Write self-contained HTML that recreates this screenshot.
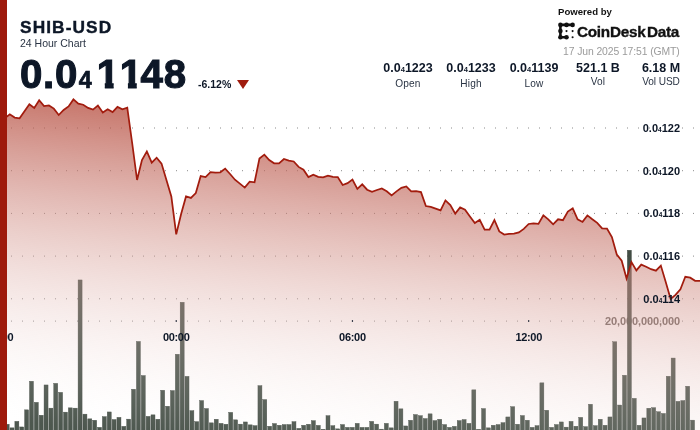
<!DOCTYPE html>
<html><head><meta charset="utf-8"><title>SHIB-USD 24 Hour Chart</title>
<style>
html,body{margin:0;padding:0;background:#fff;}
body{width:700px;height:430px;overflow:hidden;position:relative;font-family:"Liberation Sans",sans-serif;color:#0f1a2b;}
#chart{position:absolute;left:0;top:0;will-change:transform;}
.t{position:absolute;white-space:nowrap;line-height:1;will-change:transform;}
#title{left:19.8px;top:18.6px;font-size:17.3px;font-weight:bold;letter-spacing:1.1px;-webkit-text-stroke:0.4px #0d1727;color:#0d1727;}
#sub{left:20.4px;top:38px;font-size:10.5px;color:#2a3444;}
#price{left:19.8px;top:54.7px;font-size:40.2px;font-weight:bold;letter-spacing:0.75px;-webkit-text-stroke:1.1px #0d1727;color:#0d1727;}
#price .s{font-size:23.4px;letter-spacing:2.6px;margin-left:0.6px;-webkit-text-stroke:0.7px #0d1727;}
#price .one{display:inline-block;clip-path:polygon(0 0,100% 0,100% 27.6px,16.9px 27.6px,16.9px 100%,8.1px 100%,8.1px 27.6px,0 27.6px);}
#chg{left:197.5px;top:79px;font-size:10.5px;font-weight:bold;color:#0d1727;}
#tri{position:absolute;left:237.1px;top:80.2px;width:0;height:0;border-left:6.1px solid transparent;border-right:6.1px solid transparent;border-top:9.4px solid #a01c0e;}
#pw{left:558px;top:7.3px;font-size:9.6px;font-weight:bold;letter-spacing:0px;color:#111;}
#cd{left:577px;top:24px;font-size:15.3px;font-weight:bold;letter-spacing:-0.27px;color:#111;-webkit-text-stroke:0.35px #111;}
#date{right:20px;top:46.5px;font-size:10.4px;color:#9b9b9b;letter-spacing:-0.1px;}
.stat{position:absolute;top:62px;width:80px;margin-left:-40px;text-align:center;white-space:nowrap;will-change:transform;}
.stat b{display:block;font-size:12.5px;line-height:12px;color:#0d1727;}
.stat b .s{font-size:7.5px;}
.stat span.l{display:block;font-size:10.1px;letter-spacing:0.15px;line-height:12px;margin-top:1.5px;color:#2a3444;}
svg text.ax{font-family:"Liberation Sans",sans-serif;font-weight:bold;font-size:11px;fill:#0d1727;}
svg text.ax .sub{font-size:6.5px;}
svg text.vol{fill:#67615d;}
</style></head><body>
<svg id="chart" width="700" height="430" viewBox="0 0 700 430">
<defs><linearGradient id="g" gradientUnits="userSpaceOnUse" x1="1.13" y1="-10.78" x2="-43.5" y2="414.5"><stop offset="0.0000" stop-color="rgb(158,19,0)" stop-opacity="0.9850"/><stop offset="0.0233" stop-color="rgb(160,24,6)" stop-opacity="0.9635"/><stop offset="0.0465" stop-color="rgb(163,30,12)" stop-opacity="0.9420"/><stop offset="0.0698" stop-color="rgb(165,35,18)" stop-opacity="0.9205"/><stop offset="0.0930" stop-color="rgb(167,41,24)" stop-opacity="0.8990"/><stop offset="0.1163" stop-color="rgb(169,46,30)" stop-opacity="0.8774"/><stop offset="0.1395" stop-color="rgb(172,52,36)" stop-opacity="0.8559"/><stop offset="0.1628" stop-color="rgb(174,57,42)" stop-opacity="0.8344"/><stop offset="0.1860" stop-color="rgb(176,63,47)" stop-opacity="0.8129"/><stop offset="0.2093" stop-color="rgb(178,68,53)" stop-opacity="0.7914"/><stop offset="0.2326" stop-color="rgb(181,74,59)" stop-opacity="0.7699"/><stop offset="0.2558" stop-color="rgb(183,79,65)" stop-opacity="0.7484"/><stop offset="0.2791" stop-color="rgb(185,85,71)" stop-opacity="0.7269"/><stop offset="0.3023" stop-color="rgb(187,90,77)" stop-opacity="0.7053"/><stop offset="0.3256" stop-color="rgb(190,96,83)" stop-opacity="0.6838"/><stop offset="0.3488" stop-color="rgb(192,101,89)" stop-opacity="0.6623"/><stop offset="0.3721" stop-color="rgb(194,107,95)" stop-opacity="0.6408"/><stop offset="0.3953" stop-color="rgb(196,112,101)" stop-opacity="0.6193"/><stop offset="0.4186" stop-color="rgb(199,118,107)" stop-opacity="0.5978"/><stop offset="0.4419" stop-color="rgb(201,123,113)" stop-opacity="0.5763"/><stop offset="0.4651" stop-color="rgb(203,129,119)" stop-opacity="0.5548"/><stop offset="0.4884" stop-color="rgb(205,134,125)" stop-opacity="0.5333"/><stop offset="0.5116" stop-color="rgb(208,140,130)" stop-opacity="0.5117"/><stop offset="0.5349" stop-color="rgb(210,145,136)" stop-opacity="0.4902"/><stop offset="0.5581" stop-color="rgb(212,151,142)" stop-opacity="0.4687"/><stop offset="0.5814" stop-color="rgb(214,156,148)" stop-opacity="0.4472"/><stop offset="0.6047" stop-color="rgb(217,162,154)" stop-opacity="0.4257"/><stop offset="0.6279" stop-color="rgb(219,167,160)" stop-opacity="0.4042"/><stop offset="0.6512" stop-color="rgb(221,173,166)" stop-opacity="0.3827"/><stop offset="0.6744" stop-color="rgb(223,178,172)" stop-opacity="0.3612"/><stop offset="0.6977" stop-color="rgb(226,184,178)" stop-opacity="0.3397"/><stop offset="0.7209" stop-color="rgb(228,189,184)" stop-opacity="0.3181"/><stop offset="0.7442" stop-color="rgb(230,195,190)" stop-opacity="0.2966"/><stop offset="0.7674" stop-color="rgb(232,200,196)" stop-opacity="0.2751"/><stop offset="0.7907" stop-color="rgb(235,206,202)" stop-opacity="0.2536"/><stop offset="0.8140" stop-color="rgb(237,211,208)" stop-opacity="0.2321"/><stop offset="0.8372" stop-color="rgb(239,217,213)" stop-opacity="0.2106"/><stop offset="0.8605" stop-color="rgb(241,222,219)" stop-opacity="0.1891"/><stop offset="0.8837" stop-color="rgb(244,228,225)" stop-opacity="0.1676"/><stop offset="0.9070" stop-color="rgb(246,233,231)" stop-opacity="0.1460"/><stop offset="0.9302" stop-color="rgb(248,239,237)" stop-opacity="0.1245"/><stop offset="0.9535" stop-color="rgb(250,244,243)" stop-opacity="0.1030"/><stop offset="0.9767" stop-color="rgb(253,250,249)" stop-opacity="0.0815"/><stop offset="1.0000" stop-color="rgb(255,255,255)" stop-opacity="0.0600"/></linearGradient></defs>
<g stroke="#8a8a8a" stroke-width="1" stroke-dasharray="1 10" fill="none"><line x1="0" x2="700" y1="128.0" y2="128.0"/><line x1="0" x2="700" y1="170.7" y2="170.7"/><line x1="0" x2="700" y1="213.4" y2="213.4"/><line x1="0" x2="700" y1="256.1" y2="256.1"/><line x1="0" x2="700" y1="298.8" y2="298.8"/><line x1="0" x2="700" y1="321.1" y2="321.1"/></g>
<text x="680" y="325.4" text-anchor="end" class="ax vol" letter-spacing="-0.1">20,000,000,000</text>
<g fill="#424d44" stroke="#363f38" stroke-width="0.4"><rect x="0.30" y="425.25" width="4.0" height="6.0"/><rect x="5.16" y="424.25" width="4.0" height="7.0"/><rect x="10.02" y="427.85" width="4.0" height="3.4"/><rect x="14.88" y="421.35" width="4.0" height="9.9"/><rect x="19.74" y="426.95" width="4.0" height="4.3"/><rect x="24.61" y="409.85" width="4.0" height="21.4"/><rect x="29.47" y="381.25" width="4.0" height="50.0"/><rect x="34.33" y="402.35" width="4.0" height="28.9"/><rect x="39.19" y="415.25" width="4.0" height="16.0"/><rect x="44.05" y="384.95" width="4.0" height="46.3"/><rect x="48.91" y="408.15" width="4.0" height="23.1"/><rect x="53.77" y="383.35" width="4.0" height="47.9"/><rect x="58.63" y="392.35" width="4.0" height="38.9"/><rect x="63.49" y="412.15" width="4.0" height="19.1"/><rect x="68.36" y="407.85" width="4.0" height="23.4"/><rect x="73.22" y="408.15" width="4.0" height="23.1"/><rect x="78.08" y="279.95" width="4.0" height="151.3"/><rect x="82.94" y="414.15" width="4.0" height="17.1"/><rect x="87.80" y="418.85" width="4.0" height="12.4"/><rect x="92.66" y="420.25" width="4.0" height="11.0"/><rect x="97.52" y="427.35" width="4.0" height="3.9"/><rect x="102.38" y="416.65" width="4.0" height="14.6"/><rect x="107.24" y="411.95" width="4.0" height="19.3"/><rect x="112.11" y="419.55" width="4.0" height="11.7"/><rect x="116.97" y="417.35" width="4.0" height="13.9"/><rect x="121.83" y="426.35" width="4.0" height="4.9"/><rect x="126.69" y="419.15" width="4.0" height="12.1"/><rect x="131.55" y="389.25" width="4.0" height="42.0"/><rect x="136.41" y="341.45" width="4.0" height="89.8"/><rect x="141.27" y="375.55" width="4.0" height="55.7"/><rect x="146.13" y="416.35" width="4.0" height="14.9"/><rect x="150.99" y="414.85" width="4.0" height="16.4"/><rect x="155.86" y="419.25" width="4.0" height="12.0"/><rect x="160.72" y="390.25" width="4.0" height="41.0"/><rect x="165.58" y="406.25" width="4.0" height="25.0"/><rect x="170.44" y="390.55" width="4.0" height="40.7"/><rect x="175.30" y="354.25" width="4.0" height="77.0"/><rect x="180.16" y="302.25" width="4.0" height="129.0"/><rect x="185.02" y="376.35" width="4.0" height="54.9"/><rect x="189.88" y="410.65" width="4.0" height="20.6"/><rect x="194.74" y="421.65" width="4.0" height="9.6"/><rect x="199.61" y="400.55" width="4.0" height="30.7"/><rect x="204.47" y="408.55" width="4.0" height="22.7"/><rect x="209.33" y="422.85" width="4.0" height="8.4"/><rect x="214.19" y="419.25" width="4.0" height="12.0"/><rect x="219.05" y="423.35" width="4.0" height="7.9"/><rect x="223.91" y="424.25" width="4.0" height="7.0"/><rect x="228.77" y="412.35" width="4.0" height="18.9"/><rect x="233.63" y="419.85" width="4.0" height="11.4"/><rect x="238.49" y="424.15" width="4.0" height="7.1"/><rect x="243.36" y="421.95" width="4.0" height="9.3"/><rect x="248.22" y="424.85" width="4.0" height="6.4"/><rect x="253.08" y="425.65" width="4.0" height="5.6"/><rect x="257.94" y="385.65" width="4.0" height="45.6"/><rect x="262.80" y="399.55" width="4.0" height="31.7"/><rect x="267.66" y="426.25" width="4.0" height="5.0"/><rect x="272.52" y="423.55" width="4.0" height="7.7"/><rect x="277.38" y="425.25" width="4.0" height="6.0"/><rect x="282.24" y="424.55" width="4.0" height="6.7"/><rect x="287.11" y="424.55" width="4.0" height="6.7"/><rect x="291.97" y="421.65" width="4.0" height="9.6"/><rect x="296.83" y="428.35" width="4.0" height="2.9"/><rect x="301.69" y="425.25" width="4.0" height="6.0"/><rect x="306.55" y="424.25" width="4.0" height="7.0"/><rect x="311.41" y="420.65" width="4.0" height="10.6"/><rect x="316.27" y="425.35" width="4.0" height="5.9"/><rect x="321.13" y="429.25" width="4.0" height="2.0"/><rect x="325.99" y="415.65" width="4.0" height="15.6"/><rect x="330.86" y="425.65" width="4.0" height="5.6"/><rect x="335.72" y="428.85" width="4.0" height="2.4"/><rect x="340.58" y="424.55" width="4.0" height="6.7"/><rect x="345.44" y="427.35" width="4.0" height="3.9"/><rect x="350.30" y="427.35" width="4.0" height="3.9"/><rect x="355.16" y="423.35" width="4.0" height="7.9"/><rect x="360.02" y="427.35" width="4.0" height="3.9"/><rect x="364.88" y="427.35" width="4.0" height="3.9"/><rect x="369.74" y="421.35" width="4.0" height="9.9"/><rect x="374.61" y="424.15" width="4.0" height="7.1"/><rect x="379.47" y="429.15" width="4.0" height="2.1"/><rect x="384.33" y="423.35" width="4.0" height="7.9"/><rect x="389.19" y="427.85" width="4.0" height="3.4"/><rect x="394.05" y="401.25" width="4.0" height="30.0"/><rect x="398.91" y="408.85" width="4.0" height="22.4"/><rect x="403.77" y="425.95" width="4.0" height="5.3"/><rect x="408.63" y="420.25" width="4.0" height="11.0"/><rect x="413.49" y="414.55" width="4.0" height="16.7"/><rect x="418.36" y="415.65" width="4.0" height="15.6"/><rect x="423.22" y="418.55" width="4.0" height="12.7"/><rect x="428.08" y="413.85" width="4.0" height="17.4"/><rect x="432.94" y="420.55" width="4.0" height="10.7"/><rect x="437.80" y="419.25" width="4.0" height="12.0"/><rect x="442.66" y="424.55" width="4.0" height="6.7"/><rect x="447.52" y="427.35" width="4.0" height="3.9"/><rect x="452.38" y="426.35" width="4.0" height="4.9"/><rect x="457.24" y="420.55" width="4.0" height="10.7"/><rect x="462.11" y="419.55" width="4.0" height="11.7"/><rect x="466.97" y="423.35" width="4.0" height="7.9"/><rect x="471.83" y="389.85" width="4.0" height="41.4"/><rect x="476.69" y="429.25" width="4.0" height="2.0"/><rect x="481.55" y="408.55" width="4.0" height="22.7"/><rect x="486.41" y="427.85" width="4.0" height="3.4"/><rect x="491.27" y="425.25" width="4.0" height="6.0"/><rect x="496.13" y="424.55" width="4.0" height="6.7"/><rect x="500.99" y="422.65" width="4.0" height="8.6"/><rect x="505.86" y="416.95" width="4.0" height="14.3"/><rect x="510.72" y="406.65" width="4.0" height="24.6"/><rect x="515.58" y="424.25" width="4.0" height="7.0"/><rect x="520.44" y="415.55" width="4.0" height="15.7"/><rect x="525.30" y="420.25" width="4.0" height="11.0"/><rect x="530.16" y="427.35" width="4.0" height="3.9"/><rect x="535.02" y="425.65" width="4.0" height="5.6"/><rect x="539.88" y="382.85" width="4.0" height="48.4"/><rect x="544.74" y="410.25" width="4.0" height="21.0"/><rect x="549.61" y="427.35" width="4.0" height="3.9"/><rect x="554.47" y="424.55" width="4.0" height="6.7"/><rect x="559.33" y="421.95" width="4.0" height="9.3"/><rect x="564.19" y="427.15" width="4.0" height="4.1"/><rect x="569.05" y="421.35" width="4.0" height="9.9"/><rect x="573.91" y="426.25" width="4.0" height="5.0"/><rect x="578.77" y="417.35" width="4.0" height="13.9"/><rect x="583.63" y="426.65" width="4.0" height="4.6"/><rect x="588.49" y="404.25" width="4.0" height="27.0"/><rect x="593.36" y="425.65" width="4.0" height="5.6"/><rect x="598.22" y="419.25" width="4.0" height="12.0"/><rect x="603.08" y="425.25" width="4.0" height="6.0"/><rect x="607.94" y="416.95" width="4.0" height="14.3"/><rect x="612.80" y="341.75" width="4.0" height="89.5"/><rect x="617.66" y="405.05" width="4.0" height="26.2"/><rect x="622.52" y="375.25" width="4.0" height="56.0"/><rect x="627.38" y="250.25" width="4.0" height="181.0"/><rect x="632.24" y="398.35" width="4.0" height="32.9"/><rect x="637.11" y="425.25" width="4.0" height="6.0"/><rect x="641.97" y="417.95" width="4.0" height="13.3"/><rect x="646.83" y="408.25" width="4.0" height="23.0"/><rect x="651.69" y="407.65" width="4.0" height="23.6"/><rect x="656.55" y="411.75" width="4.0" height="19.5"/><rect x="661.41" y="413.45" width="4.0" height="17.8"/><rect x="666.27" y="376.25" width="4.0" height="55.0"/><rect x="671.13" y="358.05" width="4.0" height="73.2"/><rect x="675.99" y="401.35" width="4.0" height="29.9"/><rect x="680.86" y="400.55" width="4.0" height="30.7"/><rect x="685.72" y="386.25" width="4.0" height="45.0"/><rect x="690.58" y="420.15" width="4.0" height="11.1"/></g>
<path d="M0.00,117.00 L4.90,118.10 L9.79,114.30 L14.69,117.60 L19.58,118.30 L24.48,111.30 L29.37,104.30 L34.27,107.90 L39.16,100.30 L44.06,106.10 L48.95,105.40 L53.85,108.60 L58.74,115.00 L63.64,110.00 L68.53,106.40 L73.43,99.40 L78.32,103.60 L83.22,104.70 L88.11,107.90 L93.01,109.60 L97.90,105.50 L102.80,112.60 L107.69,109.30 L112.59,112.10 L117.48,106.90 L122.38,109.30 L127.27,107.70 L132.17,143.00 L137.06,180.00 L141.96,160.00 L146.85,151.40 L151.75,162.60 L156.64,157.70 L161.54,163.60 L166.43,180.00 L171.33,196.40 L176.22,234.40 L181.12,214.00 L186.01,196.40 L190.91,197.90 L195.80,193.00 L200.70,176.10 L205.59,177.10 L210.49,172.10 L215.38,172.60 L220.28,172.30 L225.17,168.60 L230.07,174.00 L234.97,179.70 L239.86,183.60 L244.76,187.60 L249.65,181.70 L254.55,182.30 L259.44,158.60 L264.34,154.60 L269.23,160.00 L274.13,163.30 L279.02,163.30 L283.92,159.00 L288.81,160.70 L293.71,161.50 L298.60,166.90 L303.50,169.70 L308.39,177.10 L313.29,174.60 L318.18,176.90 L323.08,177.40 L327.97,175.70 L332.87,176.90 L337.76,177.10 L342.66,185.00 L347.55,183.10 L352.45,179.60 L357.34,188.90 L362.24,184.30 L367.13,189.70 L372.03,191.90 L376.92,190.00 L381.82,188.40 L386.71,191.30 L391.61,195.40 L396.50,191.40 L401.40,187.90 L406.29,186.40 L411.19,191.40 L416.08,191.10 L420.98,192.10 L425.87,206.00 L430.77,206.90 L435.66,208.60 L440.56,210.30 L445.45,200.40 L450.35,205.00 L455.24,213.60 L460.14,207.40 L465.03,209.70 L469.93,216.40 L474.83,223.10 L479.72,219.80 L484.62,229.70 L489.51,229.60 L494.41,220.00 L499.30,231.40 L504.20,234.60 L509.09,233.90 L513.99,233.60 L518.88,232.40 L523.78,228.90 L528.67,224.00 L533.57,223.30 L538.46,223.90 L543.36,215.40 L548.25,219.30 L553.15,224.30 L558.04,219.30 L562.94,220.20 L567.83,211.50 L572.73,208.30 L577.62,219.30 L582.52,221.90 L587.41,215.40 L592.31,219.30 L597.20,222.90 L602.10,228.30 L606.99,228.60 L611.89,237.00 L616.78,254.50 L621.68,260.70 L626.57,278.60 L631.47,262.10 L636.36,270.40 L641.26,264.60 L646.15,266.70 L651.05,269.20 L655.94,270.70 L660.84,265.60 L665.73,282.10 L670.63,299.00 L675.52,294.90 L680.42,289.30 L685.31,276.80 L690.21,277.70 L695.10,280.80 L700.00,281.00 L700,430 L0,430 Z" fill="url(#g)"/>
<path d="M0.00,117.00 L4.90,118.10 L9.79,114.30 L14.69,117.60 L19.58,118.30 L24.48,111.30 L29.37,104.30 L34.27,107.90 L39.16,100.30 L44.06,106.10 L48.95,105.40 L53.85,108.60 L58.74,115.00 L63.64,110.00 L68.53,106.40 L73.43,99.40 L78.32,103.60 L83.22,104.70 L88.11,107.90 L93.01,109.60 L97.90,105.50 L102.80,112.60 L107.69,109.30 L112.59,112.10 L117.48,106.90 L122.38,109.30 L127.27,107.70 L132.17,143.00 L137.06,180.00 L141.96,160.00 L146.85,151.40 L151.75,162.60 L156.64,157.70 L161.54,163.60 L166.43,180.00 L171.33,196.40 L176.22,234.40 L181.12,214.00 L186.01,196.40 L190.91,197.90 L195.80,193.00 L200.70,176.10 L205.59,177.10 L210.49,172.10 L215.38,172.60 L220.28,172.30 L225.17,168.60 L230.07,174.00 L234.97,179.70 L239.86,183.60 L244.76,187.60 L249.65,181.70 L254.55,182.30 L259.44,158.60 L264.34,154.60 L269.23,160.00 L274.13,163.30 L279.02,163.30 L283.92,159.00 L288.81,160.70 L293.71,161.50 L298.60,166.90 L303.50,169.70 L308.39,177.10 L313.29,174.60 L318.18,176.90 L323.08,177.40 L327.97,175.70 L332.87,176.90 L337.76,177.10 L342.66,185.00 L347.55,183.10 L352.45,179.60 L357.34,188.90 L362.24,184.30 L367.13,189.70 L372.03,191.90 L376.92,190.00 L381.82,188.40 L386.71,191.30 L391.61,195.40 L396.50,191.40 L401.40,187.90 L406.29,186.40 L411.19,191.40 L416.08,191.10 L420.98,192.10 L425.87,206.00 L430.77,206.90 L435.66,208.60 L440.56,210.30 L445.45,200.40 L450.35,205.00 L455.24,213.60 L460.14,207.40 L465.03,209.70 L469.93,216.40 L474.83,223.10 L479.72,219.80 L484.62,229.70 L489.51,229.60 L494.41,220.00 L499.30,231.40 L504.20,234.60 L509.09,233.90 L513.99,233.60 L518.88,232.40 L523.78,228.90 L528.67,224.00 L533.57,223.30 L538.46,223.90 L543.36,215.40 L548.25,219.30 L553.15,224.30 L558.04,219.30 L562.94,220.20 L567.83,211.50 L572.73,208.30 L577.62,219.30 L582.52,221.90 L587.41,215.40 L592.31,219.30 L597.20,222.90 L602.10,228.30 L606.99,228.60 L611.89,237.00 L616.78,254.50 L621.68,260.70 L626.57,278.60 L631.47,262.10 L636.36,270.40 L641.26,264.60 L646.15,266.70 L651.05,269.20 L655.94,270.70 L660.84,265.60 L665.73,282.10 L670.63,299.00 L675.52,294.90 L680.42,289.30 L685.31,276.80 L690.21,277.70 L695.10,280.80 L700.00,281.00" fill="none" stroke="#a21c0e" stroke-width="1.75" stroke-linejoin="miter"/>
<text x="680" y="131.9" text-anchor="end" class="ax">0.0<tspan class="sub">4</tspan>122</text><text x="680" y="174.6" text-anchor="end" class="ax">0.0<tspan class="sub">4</tspan>120</text><text x="680" y="217.3" text-anchor="end" class="ax">0.0<tspan class="sub">4</tspan>118</text><text x="680" y="260.0" text-anchor="end" class="ax">0.0<tspan class="sub">4</tspan>116</text><text x="680" y="302.7" text-anchor="end" class="ax">0.0<tspan class="sub">4</tspan>114</text>
<text x="0.0" y="341" text-anchor="middle" class="ax" letter-spacing="-0.3">18:00</text><rect x="-0.60" y="320.2" width="1.2" height="1.6" fill="#1a2433"/><text x="176.2" y="341" text-anchor="middle" class="ax" letter-spacing="-0.3">00:00</text><rect x="175.62" y="320.2" width="1.2" height="1.6" fill="#1a2433"/><text x="352.4" y="341" text-anchor="middle" class="ax" letter-spacing="-0.3">06:00</text><rect x="351.85" y="320.2" width="1.2" height="1.6" fill="#1a2433"/><text x="528.7" y="341" text-anchor="middle" class="ax" letter-spacing="-0.3">12:00</text><rect x="528.07" y="320.2" width="1.2" height="1.6" fill="#1a2433"/>
<rect x="0" y="0" width="7" height="430" fill="#9e1a0c"/>
<g fill="#111" stroke="#111">
<path d="M572.6,24.9 L560.4,24.9 L560.4,37.2 L566.5,37.2" fill="none" stroke-width="2.6" stroke-linecap="round" stroke-linejoin="round"/>
<g stroke="none"><circle cx="560.4" cy="24.9" r="2.3"/><circle cx="566.5" cy="24.9" r="2.3"/><circle cx="572.6" cy="24.9" r="2.3"/>
<circle cx="560.4" cy="31.1" r="2.3"/><circle cx="560.4" cy="37.2" r="2.3"/><circle cx="566.5" cy="37.2" r="2.3"/>
<circle cx="566.5" cy="31.1" r="1.05"/><circle cx="572.6" cy="31.1" r="1.05"/><circle cx="572.6" cy="37.2" r="1.05"/></g>
</g>
</svg>
<div class="t" id="title">SHIB-USD</div>
<div class="t" id="sub">24 Hour Chart</div>
<div class="t" id="price">0.0<span class="s">4</span><span style="margin-left:2.4px"><span class="one">1</span><span class="one">1</span><span style="margin-left:-2.4px">48</span></span></div>
<div class="t" id="chg">-6.12%</div>
<div id="tri"></div>
<div class="t" id="pw">Powered by</div>
<div class="t" id="cd">CoinDesk<span style="margin-left:1.5px">Data</span></div>
<div class="t" id="date">17 Jun 2025 17:51 (GMT)</div>
<div class="stat" style="left:408px"><b>0.0<span class="s">4</span>1223</b><span class="l">Open</span></div>
<div class="stat" style="left:471px"><b>0.0<span class="s">4</span>1233</b><span class="l">High</span></div>
<div class="stat" style="left:534px"><b>0.0<span class="s">4</span>1139</b><span class="l">Low</span></div>
<div class="stat" style="left:597.5px"><b>521.1 B</b><span class="l">Vol</span></div>
<div class="stat" style="left:660.5px"><b>6.18 M</b><span class="l" style="letter-spacing:-0.1px">Vol USD</span></div>
</body></html>
